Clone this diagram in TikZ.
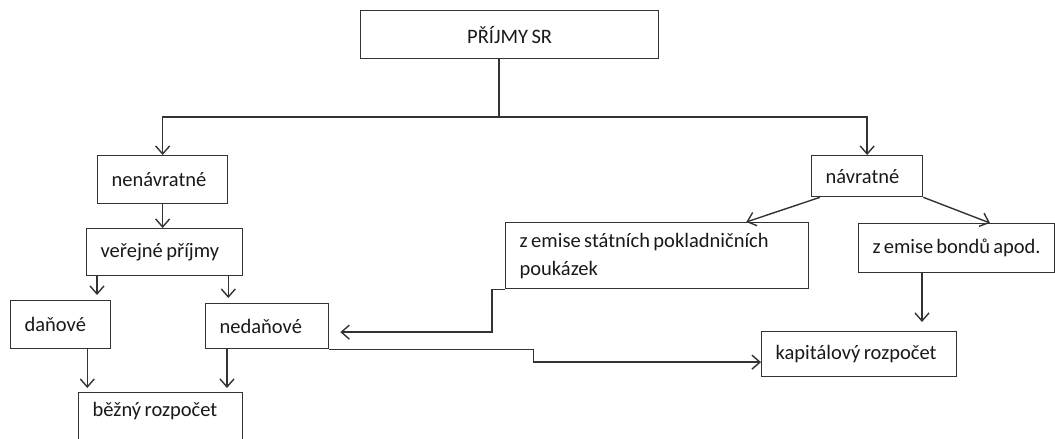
\documentclass[tikz,border=0pt]{standalone}
\usepackage{fontspec}
\setmainfont{Carlito}[WordSpace=0.75]
\usetikzlibrary{arrows.meta}

\begin{document}
\begin{tikzpicture}[x=1pt,y=-1pt]
	\tikzstyle{every node}+=[font=\fontsize{20.5}{28}\selectfont, text=black!90, execute at begin node={\spaceskip=0pt\xspaceskip=0pt\relax}]
	\tikzstyle{box}=[draw=black!80, line width=1.3pt, inner xsep=14pt, inner ysep=0pt, anchor=north west]
	\tikzstyle{link}=[draw=black!80, line width=1.4pt]
	\tikzstyle{arr}=[link, -{Straight Barb[length=8pt,width=14pt]}]
	\useasboundingbox (0,0) rectangle (1055,439);
	% boxes
	\node [box, minimum width=298pt, minimum height=48pt] (prijmy) at (360,10) {PŘÍJMY SR};
	\node [box, text width=102pt, minimum height=48pt] (nenavratne) at (97,155) {nenávratné};
	\node [box, text width=128pt, minimum height=47pt] (verejne) at (86,228) {veřejné příjmy};
	\node [box, text width=72pt, minimum height=48pt] (danove) at (10,300) {daňové};
	\node [box, text width=95pt, minimum height=45pt] (nedanove) at (205,303) {nedaňové};
	\node [box, text width=136pt, inner ysep=4pt, text height=20pt, text depth=50pt] (bezny) at (78,392) {běžný rozpočet};
	\node [box, text width=83pt, minimum height=41pt] (navratne) at (811,155) {návratné};
	\node [box, text width=275pt, minimum height=66pt] (zstatni) at (505,222) {z emise státních pokladničních\\poukázek};
	\node [box, text width=168pt, minimum height=49pt] (zbondu) at (858,223) {z emise bondů apod.};
	\node [box, text width=167pt, minimum height=45pt] (kapital) at (761,331) {kapitálový rozpočet};
	% connection points
	\coordinate (split) at (499,117);
	\coordinate (vd) at ([xshift=11pt]verejne.south west);
	\coordinate (vn) at ([xshift=-15pt]verejne.south east);
	\coordinate (db) at ([xshift=-24pt]danove.south east);
	\coordinate (nb) at ([xshift=22pt]nedanove.south west);
	\coordinate (bk) at ([xshift=64pt]zbondu.south west);
	% connectors
	\draw [link] (prijmy.south -| split) -- (split);
	\draw [arr] (split) -| (nenavratne.north);
	\draw [arr] (split) -| (navratne.north);
	\draw [arr] (nenavratne.south) -- (nenavratne.south |- verejne.north);
	\draw [arr, shorten >=5pt] (vd) -- (vd |- danove.north);
	\draw [arr, shorten >=5pt] (vn) -- (vn |- nedanove.north);
	\draw [arr, shorten >=4pt] (db) -- (db |- bezny.north);
	\draw [arr, shorten >=4pt] (nb) -- (nb |- bezny.north);
	\draw [arr] ([xshift=9pt]navratne.south west) -- ([xshift=-63pt]zstatni.north east);
	\draw [arr] (navratne.south east) -- ([xshift=132pt]zbondu.north west);
	\draw [arr, shorten >=9pt] (bk) -- (bk |- kapital.north);
	\draw [arr] (zstatni.south west) -- ++(-13,0) |- ([xshift=11pt,yshift=-6pt]nedanove.east);
	\draw [arr] (nedanove.south east) -- ++(204,0) |- ([yshift=-8pt]kapital.west);
\end{tikzpicture}
\end{document}
